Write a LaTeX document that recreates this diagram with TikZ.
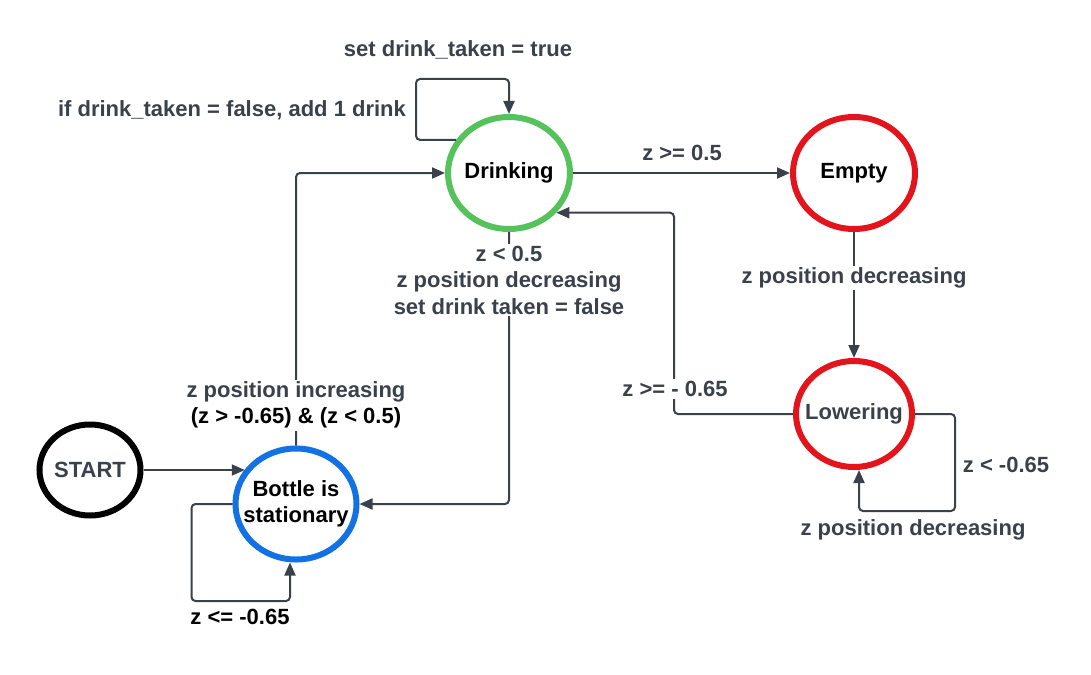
\documentclass[tikz,border=0pt]{standalone}
\usepackage{fontspec}
\setmainfont{Liberation Sans}
\usetikzlibrary{arrows.meta,shapes.geometric}
\definecolor{ink}{HTML}{3A414A}
\definecolor{cgreen}{HTML}{55C25C}
\definecolor{cred}{HTML}{E3141B}
\definecolor{cblue}{HTML}{1271E3}
\begin{document}
\begin{tikzpicture}[x=1pt,y=-1pt,
  state/.style={ellipse,line width=6pt,fill=white,inner sep=0pt},
  stext/.style={font=\fontsize{22}{26.5}\selectfont\bfseries,align=center,inner sep=0pt},
  edge/.style={draw=ink,line width=2pt,rounded corners=4pt,-{Triangle[length=13pt,width=11pt]}},
  lbl/.style={font=\fontsize{22}{26.5}\selectfont\bfseries,text=ink,align=center,inner sep=2pt},
  blk/.style={lbl,text=black},
  cover/.style={fill=white}
]
\useasboundingbox (0,0) rectangle (1091,674);

% states
\node[state,draw=cgreen,minimum width=122pt,minimum height=112pt,
  label={[stext,text=black]center:Drinking}] (drink) at (509,173) {};
\node[state,draw=cred,minimum width=122pt,minimum height=112pt,
  label={[stext,text=black]center:Empty}] (empty) at (854,173) {};
\node[state,draw=cred,minimum width=116pt,minimum height=106pt,
  label={[stext,text=ink]center:Lowering}] (lower) at (854,414) {};
\node[state,draw=cblue,minimum width=121pt,minimum height=111pt,
  label={[stext,text=black]center:Bottle is\\stationary}] (bottle) at (296,504) {};
\node[state,draw=black,minimum width=101pt,minimum height=91pt,
  label={[stext,text=ink]center:START}] (start) at (90,470) {};

% connectors
\draw[edge] (start.east) -- (start.east -| bottle.146);
\draw[edge] (bottle.west) -- ++(-41,0) -- ++(0,97) -| ([xshift=-6pt]bottle.south);
\draw[edge] (bottle.north) |- (drink.west);
\draw[edge] (drink.south) |- (bottle.east);
\draw[edge] (drink.148) -- ++(-40,0) |- ([yshift=35pt]drink.north) -- (drink.north);
\draw[edge] (drink.east) -- (empty.west);
\draw[edge] (empty.south) -- (lower.north);
\draw[edge] (lower.west) -- ++(-119,0) |- (drink.320);
\draw[edge] (lower.east) -- ++(40,0) -- ++(0,97) -| ([xshift=5pt]lower.south);

% labels
\node[lbl] (l1) at (458,50) {set drink\_taken = true};
\node[lbl] (l2) at (232,110) {if drink\_taken = false, add 1 drink};
\node[lbl] (l3) at (682,153) {z >= 0.5};
\node[lbl,cover] (l4) at (509,280) {z < 0.5\\z position decreasing\\set drink taken = false};
\node[lbl,cover] (l5) at (296,405) {z position increasing\\\textcolor{black}{(z > -0.65) \& (z < 0.5)}};
\node[blk] (l6) at (240,617) {z <= -0.65};
\node[lbl,cover] (l7) at (854,278) {z position decreasing};
\node[lbl,cover] (l8) at (675,389) {z >= - 0.65};
\node[lbl] (l9) at (1006,465) {z < -0.65};
\node[lbl] (l10) at (913,530) {z position decreasing};
\end{tikzpicture}
\end{document}
